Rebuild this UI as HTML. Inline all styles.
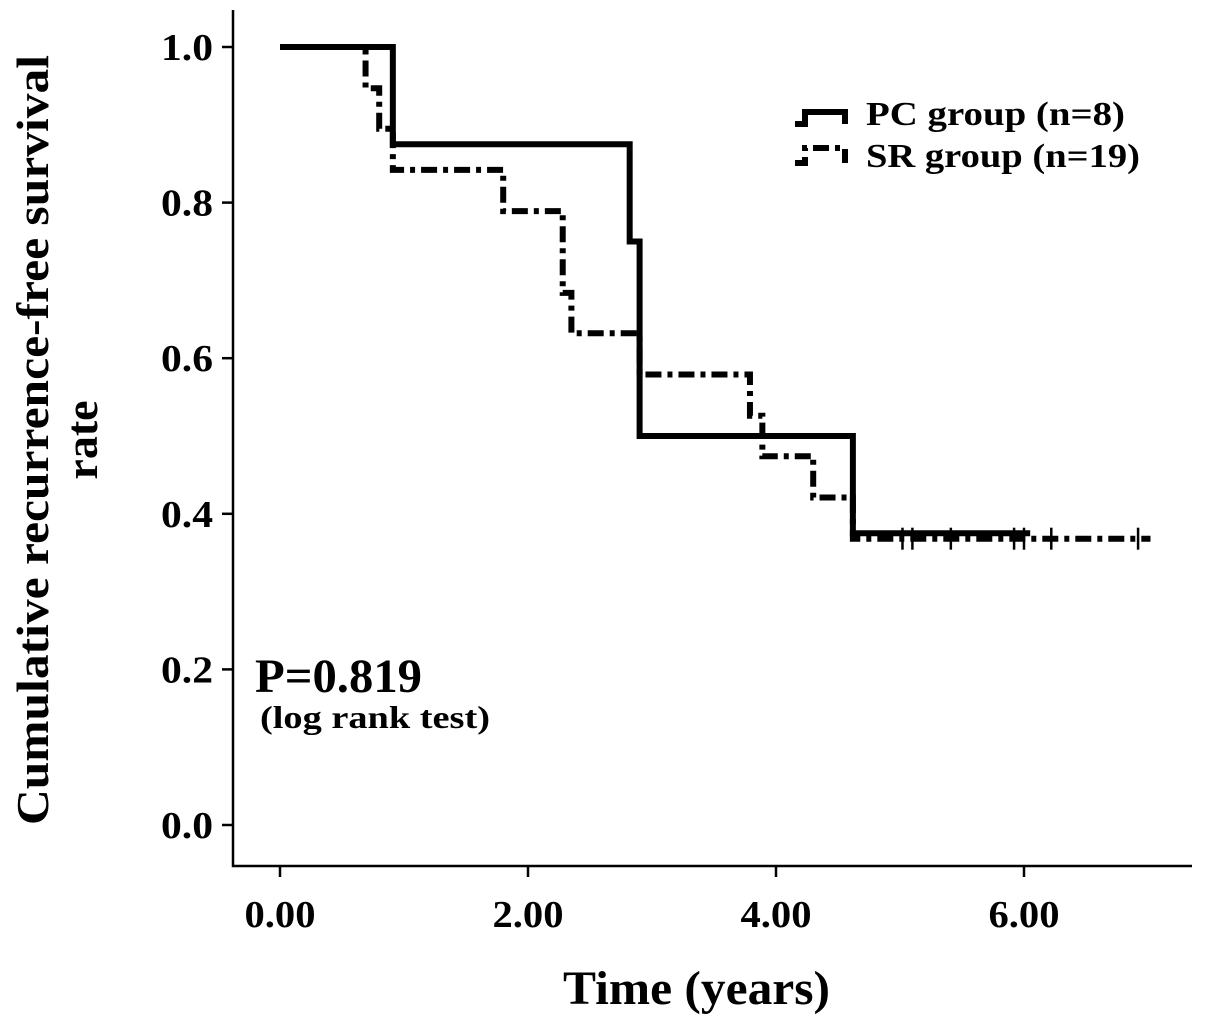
<!DOCTYPE html>
<html><head><meta charset="utf-8"><style>
body{margin:0;background:#fff;}
svg{display:block;font-family:"Liberation Serif",serif;font-weight:bold;}
</style></head><body>
<svg id="chart" width="1205" height="1026">
<g id="axes"></g><g id="series"></g>
<text x="48" y="440" font-size="46" text-anchor="middle" textLength="770" lengthAdjust="spacingAndGlyphs" transform="rotate(-90 48 440)">Cumulative recurrence-free survival</text>
<text x="97" y="440" font-size="46" text-anchor="middle" transform="rotate(-90 97 440)">rate</text>
<text x="563" y="1004" font-size="48" textLength="267" lengthAdjust="spacingAndGlyphs">Time (years)</text>
<text x="255" y="692" font-size="48" textLength="167" lengthAdjust="spacingAndGlyphs">P=0.819</text>
<text x="260" y="728" font-size="32" textLength="230" lengthAdjust="spacingAndGlyphs">(log rank test)</text>
<g>
<path d="M795 124 H805 V112 H845 V124" fill="none" stroke="#000" stroke-width="6"/>
<text x="866" y="125" font-size="34" textLength="259" lengthAdjust="spacingAndGlyphs">PC group (n=8)</text>
<path d="M795 163 H805 V148 H845 V163" fill="none" stroke="#000" stroke-width="6" stroke-dasharray="16,6,5,6"/>
<text x="866" y="167" font-size="34" textLength="274" lengthAdjust="spacingAndGlyphs">SR group (n=19)</text>
</g>
</svg>
<script>
const yTicks=[0,0.2,0.4,0.6,0.8,1.0];
const xTicks=[0,2,4,6];
const pcTimes=[0.91,2.82,2.9,4.62];
const pcSurv=[0.875,0.75,0.5,0.375];
const pcEnd=6.05;
const srTimes=[0.69,0.8,0.91,1.8,2.28,2.35,2.9,3.79,3.89,4.3,4.62];
const srSurv=[0.947,0.895,0.842,0.789,0.684,0.632,0.579,0.526,0.474,0.421,0.368];
const srEnd=7.02;
const srCensor=[5.02,5.10,5.41,5.92,6.0,6.22,6.92];
const X=t=>280+t*124, Y=s=>825-s*778;
const NS="http://www.w3.org/2000/svg";
const ax=document.getElementById('axes'), se=document.getElementById('series');
function mk(p,tag,at){const e=document.createElementNS(NS,tag);for(const k in at)e.setAttribute(k,at[k]);p.appendChild(e);return e;}
let a=mk(ax,'path',{d:'M233 10 V866 H1192',fill:'none',stroke:'#000','stroke-width':2.5});


yTicks.forEach(v=>{
 const l=mk(ax,'line',{x1:222,x2:233,y1:Y(v),y2:Y(v),stroke:'#000','stroke-width':2.5});
 
 
 const t=mk(ax,'text',{x:213,y:Y(v)+13,'font-size':38,'text-anchor':'end',textLength:52,lengthAdjust:'spacingAndGlyphs'});t.textContent=v.toFixed(1);
 
 
});
xTicks.forEach(v=>{
 const l=mk(ax,'line',{x1:X(v),x2:X(v),y1:866,y2:877,stroke:'#000','stroke-width':2.5});
 
 
 const t=mk(ax,'text',{x:X(v),y:927,'font-size':38,'text-anchor':'middle',textLength:71,lengthAdjust:'spacingAndGlyphs'});t.textContent=v.toFixed(2);
 
 
});
function stepPath(times,surv,end){let d='M'+X(0)+' '+Y(1);times.forEach((t,i)=>{d+=' H'+X(t)+' V'+Y(surv[i]);});d+=' H'+X(end);return d;}
let sr=mk(se,'path',{d:stepPath(srTimes,srSurv,srEnd),fill:'none',stroke:'#000','stroke-width':6,'stroke-dasharray':'16,6,5,6'});


let pc=mk(se,'path',{d:stepPath(pcTimes,pcSurv,pcEnd),fill:'none',stroke:'#000','stroke-width':6});


srCensor.forEach(t=>{
 const c=mk(se,'line',{x1:X(t),x2:X(t),y1:Y(0.368)-11,y2:Y(0.368)+11,stroke:'#000','stroke-width':2.5});
 
 
});
</script>
</body></html>
